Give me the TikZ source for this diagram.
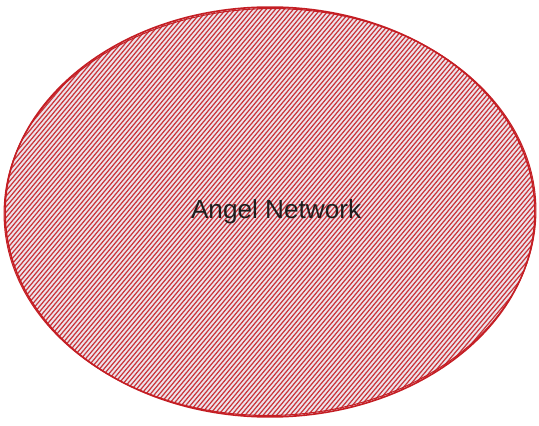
\documentclass[tikz,border=0pt]{standalone}
\usepackage{fontspec}
\setmainfont{Liberation Sans}
\usetikzlibrary{shapes.geometric}
\definecolor{netred}{RGB}{196,30,36}
\definecolor{hazefill}{RGB}{236,228,236}
\definecolor{inkgray}{RGB}{30,30,30}

\begin{document}
\begin{tikzpicture}[
  x=0.02cm, y=-0.02cm,
  hatch/.style={netred!90, line width=0.7pt},
  network/.style={ellipse, draw=netred, line width=0.9pt, fill=hazefill, inner sep=0pt,
    minimum width=10.6cm, minimum height=8.2cm,
    font=\fontsize{14.9}{18}\selectfont, text=inkgray},
  sketch/.style={netred, line width=0.6pt}
]
  \useasboundingbox (0,0) rectangle (539,426);

  % Network ellipse with hachure fill
  \node[network, path picture={
      \foreach \k in {0,...,198}
        \draw[hatch] ([xshift=\k*0.09cm-7.1cm, yshift=-0.1cm]path picture bounding box.south west) -- ++(7.05cm,8.4cm);
    }] (net) at (270,212) {\hspace*{7pt}\raisebox{-3pt}{Angel Network}};

  % second rough stroke
  \draw[sketch] (net.center) ellipse [x radius=5.32cm, y radius=4.07cm, rotate=0.8];

\end{tikzpicture}
\end{document}
